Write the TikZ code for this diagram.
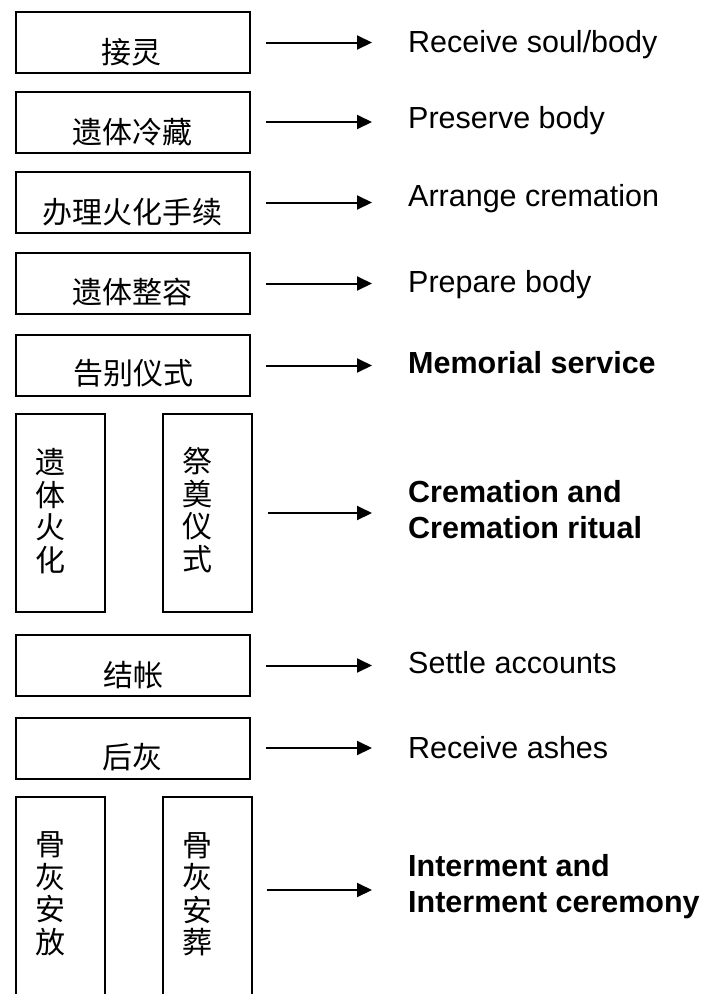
\documentclass[tikz,border=0pt]{standalone}
\usepackage{fontspec}
\setmainfont{Liberation Sans}
\newfontfamily\cjk{Noto Sans CJK SC}
\usetikzlibrary{arrows.meta}
\begin{document}
\begin{tikzpicture}[x=1pt,y=-1pt,
 box/.style={draw, line width=2pt, minimum width=234pt, minimum height=61pt, inner sep=0pt},
 tallbox/.style={draw, line width=2pt, minimum width=89pt, minimum height=198pt, inner sep=0pt},
 openbox/.style={draw=none, minimum width=89pt, minimum height=203pt, inner sep=0pt},
 zh/.style={font=\cjk\fontsize{30}{32.5}\selectfont, inner sep=0pt, align=center},
 en/.style={font=\fontsize{30.5}{36}\selectfont, anchor=west, inner sep=0pt, align=left},
 enb/.style={en, font=\bfseries\fontsize{30.5}{36}\selectfont},
 arr/.style={-{Triangle[length=15pt,width=14pt]}, line width=2pt, shorten <=15pt, shorten >=36pt}]
\useasboundingbox (0,0) rectangle (708,994);

% boxes
\node[box] (b1) at (133,42.5) {};
\node[box] (b2) at (133,122) {};
\node[box] (b3) at (133,202.5) {};
\node[box] (b4) at (133,283.5) {};
\node[box] (b5) at (133,365.5) {};
\node[tallbox] (c6a) at (60.5,513) {};
\node[tallbox] (c6b) at (207.5,513) {};
\node[box] (b7) at (133,665.5) {};
\node[box] (b8) at (133,748) {};
\node[openbox] (c9a) at (60.5,898.5) {};
\node[openbox] (c9b) at (207.5,898.5) {};
\draw[line width=2pt] (c9a.south west) |- (c9a.north east) -- (c9a.south east);
\draw[line width=2pt] (c9b.south west) |- (c9b.north east) -- (c9b.south east);

% Chinese labels
\node[zh] (z1) at (131.5,52) {接灵};
\node[zh] (z2) at (132.5,132) {遗体冷藏};
\node[zh] (z3) at (132,212) {办理火化手续};
\node[zh] (z4) at (132.5,292) {遗体整容};
\node[zh] (z5) at (133,373) {告别仪式};
\node[zh] (z6a) at (50,511) {遗\\体\\火\\化};
\node[zh] (z6b) at (197,510) {祭\\奠\\仪\\式};
\node[zh] (z7) at (133,675) {结帐};
\node[zh] (z8) at (132.5,757) {后灰};
\node[zh] (z9a) at (50,894) {骨\\灰\\安\\放};
\node[zh] (z9b) at (197,894) {骨\\灰\\安\\葬};

% English labels
\node[en] (t1) at (408,45) {Receive soul/body};
\node[en] (t2) at (408,121) {Preserve body};
\node[en] (t3) at (408,199) {Arrange cremation};
\node[en] (t4) at (408,285) {Prepare body};
\node[enb] (t5) at (408,363) {Memorial service};
\node[enb] (t6) at (408,510) {Cremation and\\Cremation ritual};
\node[en] (t7) at (408,663) {Settle accounts};
\node[en] (t8) at (408,748) {Receive ashes};
\node[enb] (t9) at (408,887) {Interment and\\Interment ceremony};

% arrows
\draw[arr] (b1.east) -- (b1.east -| t1.west);
\draw[arr] (b2.east) -- (b2.east -| t2.west);
\draw[arr] (b3.east) -- (b3.east -| t3.west);
\draw[arr] (b4.east) -- (b4.east -| t4.west);
\draw[arr] (b5.east) -- (b5.east -| t5.west);
\draw[arr] (c6b.east) -- (c6b.east -| t6.west);
\draw[arr] (b7.east) -- (b7.east -| t7.west);
\draw[arr] (b8.east) -- (b8.east -| t8.west);
\coordinate (a9) at ([yshift=8.5pt]c9b.east);
\draw[arr] (a9) -- (a9 -| t9.west);
\end{tikzpicture}
\end{document}
